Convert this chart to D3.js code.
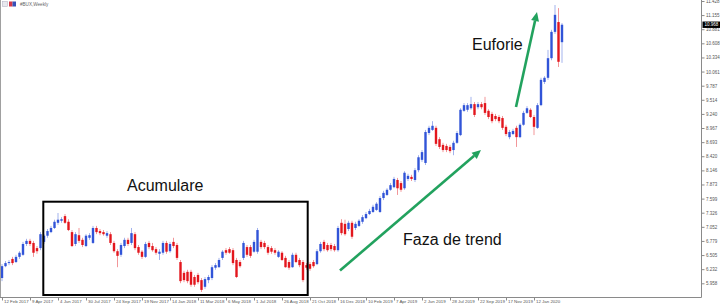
<!DOCTYPE html>
<html><head><meta charset="utf-8">
<script src="https://cdn.jsdelivr.net/npm/d3@7"></script>
<style>html,body{margin:0;padding:0;background:#fff;overflow:hidden}svg{display:block}</style>
</head><body><svg id="c" width="720" height="307"></svg>
<script>
// ---- data (weekly OHLC) ----
const openP=[6.06,6.29,6.35,6.43,6.37,6.47,6.51,6.72,6.78,6.74,
6.64,6.64,6.76,6.88,6.95,7.03,7.13,7.17,7.26,7.15,
6.95,6.72,6.89,6.80,6.68,6.84,6.74,7.03,6.97,6.95,
6.88,6.91,6.74,6.58,6.51,6.68,6.80,6.74,6.91,6.66,
6.57,6.47,6.74,6.68,6.62,6.53,6.55,6.74,6.58,6.76,
6.70,6.37,6.16,6.18,6.18,6.08,6.12,6.02,5.89,6.02,
6.06,6.26,6.27,6.45,6.60,6.62,6.60,6.41,6.37,6.45,
6.66,6.66,6.57,6.57,6.76,6.74,6.66,6.64,6.60,6.47,
6.55,6.45,6.37,6.27,6.51,6.41,6.37,6.31,6.33,6.37,
6.33,6.58,6.76,6.70,6.70,6.68,6.60,7.13,7.11,7.01,
7.13,7.03,7.07,7.15,7.22,7.30,7.34,7.38,7.34,7.61,
7.67,7.77,7.82,7.96,7.90,7.80,7.98,8.02,7.96,8.15,
8.35,8.29,8.87,8.93,8.97,8.75,8.64,8.62,8.60,8.54,
8.68,8.83,9.30,9.32,9.35,9.43,9.37,9.43,9.45,9.30,
9.24,9.20,9.18,9.16,8.99,8.79,8.85,8.97,8.79,9.03,
9.26,9.32,9.18,8.97,9.41,9.86,9.94,10.32,10.83,11.02,
10.63];
const highP=[6.33,6.39,6.41,6.47,6.51,6.58,6.76,6.82,6.82,6.78,
6.68,6.95,6.91,7.01,7.07,7.19,7.32,7.24,7.30,7.20,
6.99,6.95,7.03,6.84,6.91,6.93,7.07,7.07,7.01,6.99,
6.97,6.95,6.78,6.62,6.74,6.84,6.84,7.03,6.95,6.70,
6.60,6.76,6.78,6.74,6.66,6.62,6.78,6.78,6.76,6.84,
6.74,6.41,6.20,6.22,6.22,6.12,6.16,6.06,6.08,6.12,
6.31,6.35,6.45,6.60,6.64,6.66,6.64,6.45,6.41,6.78,
6.70,6.70,6.80,7.03,6.80,6.78,6.70,6.68,6.64,6.60,
6.58,6.49,6.41,6.55,6.55,6.45,6.41,6.35,6.37,6.41,
6.62,6.76,6.80,6.74,6.74,6.72,7.07,7.20,7.19,7.17,
7.17,7.15,7.20,7.28,7.34,7.40,7.48,7.53,7.65,7.75,
7.80,7.90,8.02,8.00,7.94,8.13,8.08,8.06,8.19,8.44,
8.54,8.93,9.01,9.10,9.01,8.79,8.68,8.66,8.64,8.72,
8.91,9.35,9.45,9.45,9.57,9.47,9.47,9.47,9.57,9.33,
9.28,9.24,9.22,9.20,9.03,8.93,8.95,9.01,9.06,9.30,
9.39,9.35,9.22,9.45,9.94,9.97,10.48,10.87,11.35,11.29,
11.00];
const lowP=[6.00,6.27,6.31,6.31,6.35,6.43,6.49,6.68,6.68,6.47,
6.53,6.60,6.72,6.84,6.93,7.01,7.09,7.13,7.11,6.97,
6.66,6.68,6.74,6.66,6.66,6.80,6.72,6.91,6.89,6.88,
6.84,6.70,6.55,6.27,6.47,6.64,6.68,6.70,6.60,6.51,
6.43,6.45,6.62,6.57,6.51,6.41,6.51,6.53,6.55,6.64,
6.41,5.96,5.98,5.96,5.89,5.89,5.94,5.79,5.85,5.96,
6.02,6.22,6.26,6.41,6.51,6.53,6.31,6.06,6.26,6.41,
6.47,6.45,6.55,6.53,6.62,6.62,6.51,6.53,6.51,6.45,
6.39,6.26,6.22,6.26,6.35,6.27,5.98,6.22,6.20,6.26,
6.31,6.55,6.58,6.57,6.58,6.57,6.57,6.89,6.88,6.97,
6.82,6.99,7.05,7.11,7.20,7.28,7.32,7.36,7.32,7.57,
7.65,7.75,7.80,7.67,7.73,7.77,7.94,7.94,7.92,8.11,
8.31,8.25,8.83,8.91,8.62,8.56,8.50,8.50,8.48,8.44,
8.66,8.81,9.28,9.28,9.32,9.18,9.33,9.33,9.22,9.14,
9.06,9.10,9.06,8.93,8.81,8.75,8.83,8.60,8.77,9.01,
9.24,9.16,8.83,8.95,9.39,9.82,9.90,10.28,10.79,10.15,
10.23];
const closeP=[6.29,6.35,6.37,6.35,6.47,6.55,6.72,6.78,6.72,6.55,
6.58,6.91,6.88,6.97,7.03,7.15,7.19,7.20,7.13,6.99,
6.68,6.91,6.78,6.70,6.88,6.89,7.03,6.95,6.93,6.91,
6.93,6.74,6.58,6.49,6.70,6.80,6.72,6.93,6.64,6.55,
6.47,6.72,6.66,6.60,6.55,6.57,6.74,6.57,6.72,6.68,
6.45,6.00,6.02,6.00,5.93,5.93,5.98,5.83,6.04,6.08,
6.27,6.31,6.41,6.57,6.55,6.55,6.35,6.08,6.29,6.74,
6.51,6.49,6.76,6.99,6.66,6.66,6.55,6.57,6.55,6.57,
6.41,6.27,6.26,6.51,6.37,6.31,6.02,6.26,6.24,6.29,
6.58,6.72,6.62,6.60,6.62,6.60,7.03,6.93,6.91,7.13,
6.86,7.11,7.17,7.24,7.30,7.36,7.44,7.50,7.61,7.71,
7.77,7.86,7.98,7.80,7.77,8.10,8.04,7.98,8.15,8.40,
8.50,8.89,8.97,9.01,8.66,8.60,8.54,8.54,8.52,8.68,
8.87,9.32,9.41,9.41,9.43,9.22,9.43,9.37,9.26,9.18,
9.10,9.14,9.10,8.97,8.85,8.89,8.91,8.79,9.03,9.26,
9.35,9.18,8.99,9.41,9.90,9.94,10.32,10.83,11.16,10.25,
10.968];
const firstWeek="12 Feb 2017";
const xTickLabels=["12 Feb 2017","9 Apr 2017","4 Jun 2017","30 Jul 2017","24 Sep 2017","19 Nov 2017","14 Jan 2018","11 Mar 2018","6 May 2018","1 Jul 2018","26 Aug 2018","21 Oct 2018","16 Dec 2018","10 Feb 2019","7 Apr 2019","2 Jun 2019","28 Jul 2019","22 Sep 2019","17 Nov 2019","12 Jan 2020"];
const yTickValues=[11.428,11.155,10.881,10.608,10.334,10.061,9.787,9.514,9.240,8.967,8.693,8.420,8.146,7.873,7.599,7.326,7.052,6.779,6.505,6.232,5.958];
const lastPrice=10.968;
const chartTitle="#BUX,Weekly";
const phaseNames=["Acumulare","Faza de trend","Euforie"];

// ---- drawing ----
const svg=d3.select("#c");
const parse=d3.utcParse("%d %b %Y");
const t0=parse(firstWeek);
const dates=closeP.map((_,i)=>d3.utcDay.offset(t0,7*i));
const x=d3.scaleUtc().domain([t0,dates[dates.length-1]]).range([2,562]);
const y=d3.scaleLinear().domain([5.958,11.428]).range([283.3,1]);
const BULL="#3154d8", BEAR="#e3161d";
const FONT="'Liberation Sans', Arial, sans-serif";

svg.append("rect").attr("width",720).attr("height",307).attr("fill","#fff");

// candles
const candles=svg.append("g");
const rows=closeP.map((c,i)=>({d:dates[i],o:openP[i],h:highP[i],l:lowP[i],c:c}));
candles.selectAll("line").data(rows).join("line")
  .attr("x1",d=>x(d.d)).attr("x2",d=>x(d.d))
  .attr("y1",d=>y(d.h)).attr("y2",d=>y(d.l))
  .attr("stroke",d=>d.c>=d.o?BULL:BEAR).attr("stroke-opacity",0.45).attr("stroke-width",1);
candles.selectAll("rect").data(rows).join("rect")
  .attr("x",d=>x(d.d)-1.2).attr("width",2.4)
  .attr("y",d=>y(Math.max(d.o,d.c)))
  .attr("height",d=>Math.max(0.8,Math.abs(y(d.o)-y(d.c))))
  .attr("fill",d=>d.c>=d.o?BULL:BEAR);

// frame
svg.append("line").attr("x1",0.5).attr("x2",0.5).attr("y1",0).attr("y2",297.5).attr("stroke","#a0a0a0");
svg.append("line").attr("x1",0).attr("x2",701.5).attr("y1",297.5).attr("y2",297.5).attr("stroke","#8a8a8a");
svg.append("line").attr("x1",701.5).attr("x2",701.5).attr("y1",0).attr("y2",297.5).attr("stroke","#8a8a8a");

// y axis
const ya=svg.append("g").attr("transform","translate(701.5,0)")
  .call(d3.axisRight(y).tickValues(yTickValues).tickFormat(d3.format(".3f")).tickSize(3).tickSizeOuter(0).tickPadding(1.5));
ya.select(".domain").remove();
ya.selectAll("line").attr("stroke","#8a8a8a");
ya.selectAll("text").attr("font-size","4.5px").attr("font-family",FONT).attr("fill","#555");

// current price marker
svg.append("rect").attr("x",702.5).attr("y",y(lastPrice)-3.2).attr("width",17.5).attr("height",6.4).attr("fill","#000");
svg.append("text").attr("x",704.5).attr("y",y(lastPrice)).attr("dy","0.35em").attr("font-size","4.5px")
  .attr("font-family",FONT).attr("fill","#fff").text(d3.format(".3f")(lastPrice));

// x axis
const xa=svg.append("g").attr("transform","translate(0,297.5)")
  .call(d3.axisBottom(x).tickValues(xTickLabels.map(parse)).tickFormat((d,i)=>xTickLabels[i]).tickSize(3).tickSizeOuter(0));
xa.select(".domain").remove();
xa.selectAll("line").attr("stroke","#8a8a8a");
xa.selectAll("text").attr("text-anchor","start").attr("x",1.5).attr("y",2.2).attr("dy","0.71em")
  .attr("font-size","4.4px").attr("font-family",FONT).attr("fill","#555");

// title
svg.append("rect").attr("x",2.5).attr("y",1.5).attr("width",5).attr("height",5).attr("fill","#e8e8ee").attr("stroke","#b8b8c8").attr("stroke-width",0.6);
svg.append("rect").attr("x",9).attr("y",1.5).attr("width",3.5).attr("height",5).attr("fill","#d43a4a");
svg.append("rect").attr("x",12.5).attr("y",1.5).attr("width",3.5).attr("height",5).attr("fill","#3650b8");
svg.append("text").attr("x",20).attr("y",6).attr("font-size","4.6px").attr("font-family",FONT).attr("fill","#666").text(chartTitle);

// accumulation box
svg.append("rect").attr("x",43.3).attr("y",201.7).attr("width",264.4).attr("height",93.3)
  .attr("fill","none").attr("stroke","#000").attr("stroke-width",2);

// arrows
const GREEN="#22a25e";
function arrow(x1,y1,x2,y2){
  const a=Math.atan2(y2-y1,x2-x1), L=9, Wd=4;
  const bx=x2-L*Math.cos(a), by=y2-L*Math.sin(a);
  svg.append("line").attr("x1",x1).attr("y1",y1).attr("x2",bx).attr("y2",by)
    .attr("stroke",GREEN).attr("stroke-width",2.6);
  const p=[[x2,y2],[bx+Wd*Math.sin(a),by-Wd*Math.cos(a)],[bx-Wd*Math.sin(a),by+Wd*Math.cos(a)]];
  svg.append("path").attr("d","M"+p.map(q=>q.join(",")).join("L")+"Z").attr("fill",GREEN);
}
arrow(340,270.5,481,150);
arrow(516,107,537,12);

// labels
const ann=[[127,191],[403,245],[472,50]];
svg.selectAll("text.ann").data(phaseNames).join("text").attr("class","ann")
  .attr("x",(d,i)=>ann[i][0]).attr("y",(d,i)=>ann[i][1])
  .attr("font-size","16px").attr("font-family",FONT).attr("fill","#111").text(d=>d);
</script></body></html>
